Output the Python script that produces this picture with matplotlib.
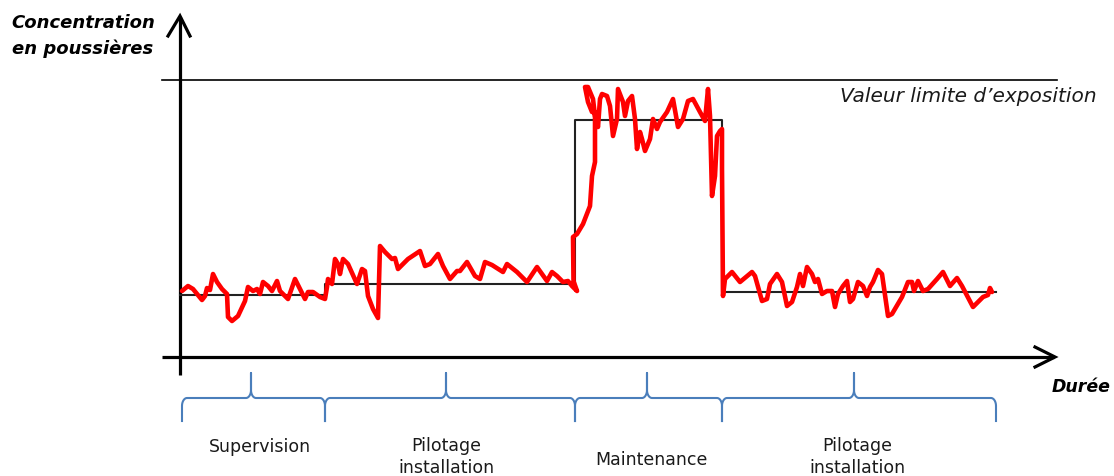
import numpy as np
import matplotlib
matplotlib.use("Agg")
import matplotlib.pyplot as plt

# time / concentration (arbitrary units), origin at the axes crossing
red_t = [2, 8, 13, 22, 25, 27, 30, 33, 37, 42, 47, 48, 52, 58, 65, 68, 73, 77, 80, 83,
         88, 92, 97, 100, 108, 115, 120, 125, 128, 133, 140, 145, 147, 148, 152, 155, 158,
         160, 163, 168, 177, 182, 185, 188, 193, 198, 200, 205, 212, 215, 218, 223, 228,
         240, 245, 250, 258, 263, 270, 277, 280, 287, 295, 300, 305, 312, 323, 327, 337,
         347, 357, 362, 367, 372, 377, 383, 388, 392, 395, 397, 393.5, 393, 397, 403, 410,
         412, 415, 415, 412, 408, 405, 408, 413, 415, 418, 420, 422, 427, 430, 433, 437,
         438, 443, 445, 448, 452, 455, 457, 460, 462, 465, 470, 473, 477, 480, 487, 493,
         498, 503, 508, 513, 520, 525, 528, 530, 532, 535, 537, 540, 542, 542, 543, 545,
         552, 560, 572, 575, 582, 587, 590, 597, 602, 607, 612, 617, 620, 623, 627, 632,
         635, 638, 642, 647, 652, 655, 658, 663, 667, 670, 673, 678, 683, 687, 690, 693,
         698, 702, 708, 712, 722, 728, 732, 734, 738, 743, 748, 757, 763, 770, 777, 782,
         793, 798, 803, 808, 810, 812]
red_c = [66, 71, 68, 57, 61, 69, 67, 83, 75, 68, 63, 40, 36, 41, 56, 70, 66, 68, 63, 75,
         71, 66, 76, 66, 58, 78, 68, 58, 65, 65, 60, 58, 70, 78, 73, 98, 93,
         83, 98, 93, 73, 88, 86, 61, 48, 39, 111, 105, 98, 99, 88, 93, 98,
         106, 91, 93, 103, 91, 78, 86, 86, 95, 81, 78, 95, 92, 85, 93, 85,
         75, 90, 83, 76, 85, 81, 75, 76, 71, 68, 66, 76, 120, 123, 133, 151,
         181, 195, 245, 245, 255, 270, 270, 258, 241, 230, 258, 263, 261, 251, 221, 238,
         268, 255, 241, 256, 261, 238, 208, 225, 218, 206, 218, 238, 228, 235, 245, 258,
         230, 238, 256, 258, 245, 236, 268, 241, 161, 181, 221, 226, 228, 188, 61, 78,
         85, 75, 85, 81, 56, 58, 73, 83, 75, 51, 55, 70, 83, 71, 90, 83,
         75, 78, 63, 66, 66, 50, 63, 71, 76, 55, 58, 75, 71, 61, 70, 75,
         87, 83, 41, 43, 60, 75, 75, 66, 76, 66, 68, 78, 85, 71, 79, 71,
         50, 55, 60, 62, 69, 65]

# mean level per phase
phase_edges = [0, 145, 395, 542, 816]
phase_level = [62, 73.5, 237.5, 65]
vle = 277

phases = ["Supervision", "Pilotage\ninstallation", "Maintenance", "Pilotage\ninstallation"]
brace_start = [2, 145, 395, 542]
brace_end = [145, 395, 542, 816]
brace_mid = [71, 266, 467, 674]
label_x = [80, 266, 471, 677]
label_y = [-89, -99, -102, -99]

BLUE = "#4a7ebb"


def brace_path(x0, x1, xm, yb=-41, ybot=-64, ytop=-16, rh=5, rv=8):
    th = np.linspace(0, np.pi / 2, 12)
    xs, ys = [x0], [ybot]
    xs += list(x0 + rh - rh * np.cos(th)); ys += list(yb - rv + rv * np.sin(th))
    xs += list(xm - rh + rh * np.sin(th)); ys += list(yb + rv - rv * np.cos(th))
    xs += [xm]; ys += [ytop]
    xs += list(xm + rh - rh * np.cos(th)); ys += list(yb + rv - rv * np.sin(th))
    xs += list(x1 - rh + rh * np.sin(th)); ys += list(yb - rv + rv * np.cos(th))
    xs += [x1]; ys += [ybot]
    return xs, ys


plt.rcParams["font.family"] = ["DejaVu Sans"]

fig = plt.figure(figsize=(11.14, 4.77), dpi=100)
ax = fig.add_axes([0, 0, 1, 1])
ax.set_xlim(-180, 934)
ax.set_ylim(-119, 358)
ax.axis("off")

# axes with arrows
ax.plot([0, 0], [-18, 340], color="black", lw=2.3, solid_capstyle="butt")
ax.plot([-12, 0, 10], [321, 341, 321], color="black", lw=2.3, solid_joinstyle="miter")
ax.plot([-18, 874], [0, 0], color="black", lw=2.3, solid_capstyle="butt")
ax.plot([855, 875, 855], [10, 0, -10], color="black", lw=2.3, solid_joinstyle="miter")

# exposure limit
ax.plot([-18, 877], [vle, vle], color="black", lw=1.2)
ax.text(660, 261, "Valeur limite d\u2019exposition", fontsize=14.5, style="italic",
        color="#1a1a1a", ha="left", va="center")

# mean step line
step_x = phase_edges
step_y = phase_level + [phase_level[-1]]
ax.step(step_x, step_y, where="post", color="#222222", lw=1.5)

# measured concentration
ax.plot(red_t, red_c, color="#ff0000", lw=3.3, solid_joinstyle="round", solid_capstyle="round")

# axis titles
ax.text(-97, 322, "Concentration\nen poussi\u00e8res", fontsize=13, fontweight="bold",
        style="italic", ha="center", va="center", linespacing=1.45)
ax.text(872, -29, "Dur\u00e9e", fontsize=12.5, fontweight="bold", style="italic",
        ha="left", va="center")

# phase braces and labels
for x0, x1, xm in zip(brace_start, brace_end, brace_mid):
    bx, by = brace_path(x0, x1, xm)
    ax.plot(bx, by, color=BLUE, lw=1.5)
for name, lx, ly in zip(phases, label_x, label_y):
    ax.text(lx, ly, name, fontsize=12.5, color="#1a1a1a", ha="center", va="center",
            linespacing=1.3)

fig.savefig("out.png", dpi=100)
